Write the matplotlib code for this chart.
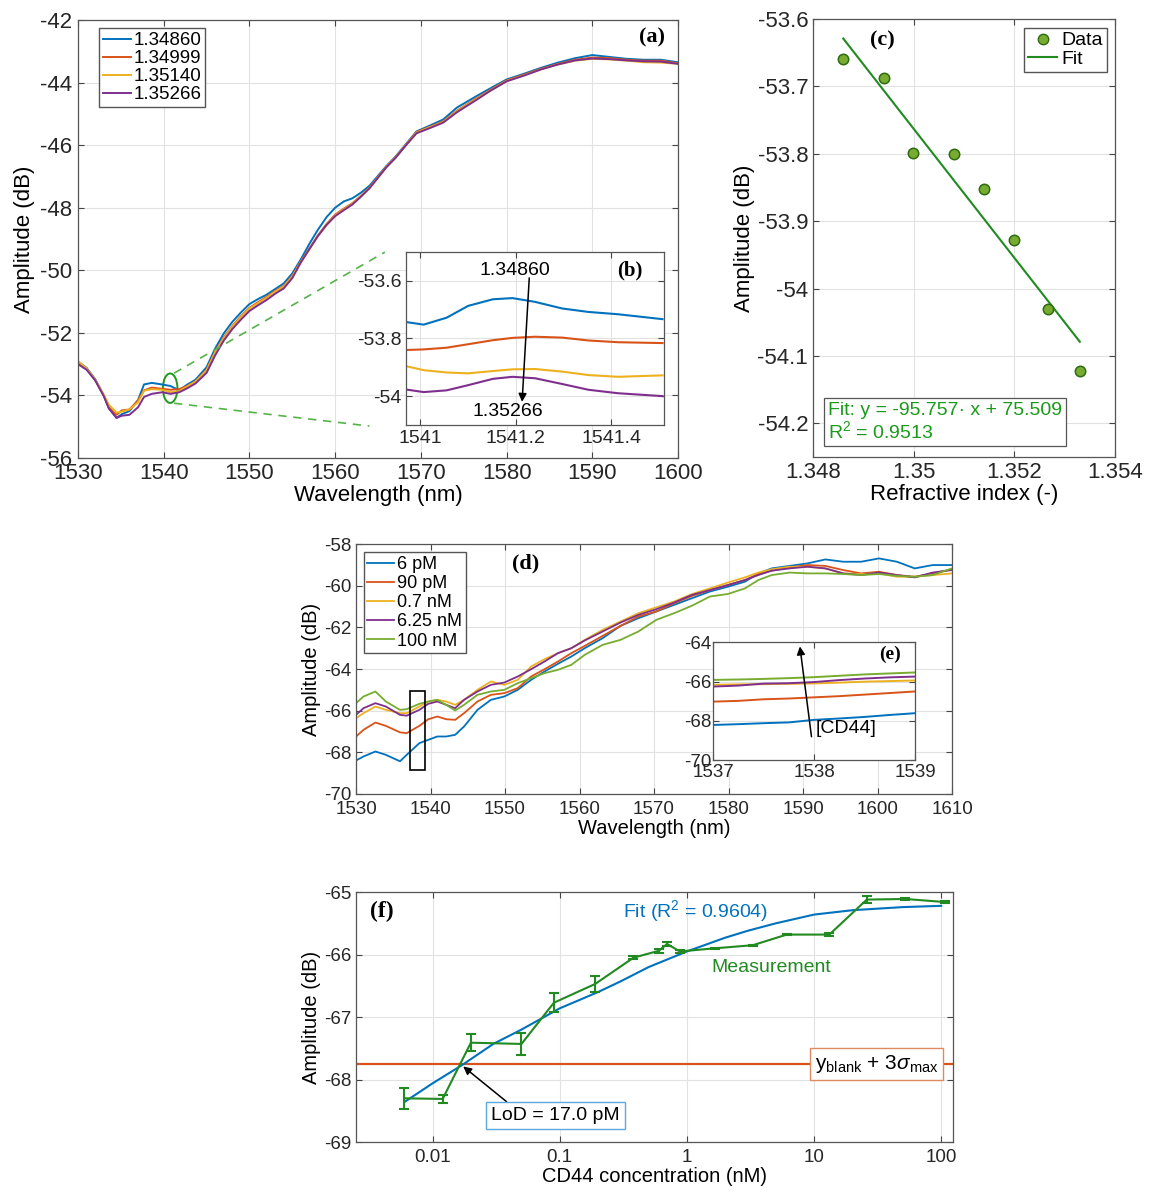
import matplotlib
matplotlib.use("Agg")
import matplotlib.pyplot as plt
from matplotlib.patches import Ellipse, Rectangle
from matplotlib.ticker import FixedLocator, FuncFormatter, NullLocator
from matplotlib.lines import Line2D

plt.rcParams['font.family'] = ['Liberation Sans', 'DejaVu Sans']
plt.rcParams['mathtext.fontset'] = 'custom'
plt.rcParams['mathtext.rm'] = 'Liberation Sans'
plt.rcParams['mathtext.it'] = 'Liberation Sans:italic'
plt.rcParams['axes.unicode_minus'] = False

C_BLUE = '#0072BD'
C_ORANGE = '#D95319'
C_YELLOW = '#EDB120'
C_PURPLE = '#7E2F8E'
C_GREEN = '#77AC30'
C_DKGREEN = '#218a21'
SERIF = ['Liberation Serif', 'DejaVu Serif']

# ---- (a) spectra for four refractive indices
ri_labels = ['1.34860', '1.34999', '1.35140', '1.35266']
wl_a = [1530, 1531, 1532, 1533, 1533.6, 1534.5, 1535.1, 1536, 1537, 1537.7, 1538.6, 1539.8,
        1540.8, 1541.8, 1542.7, 1543.7, 1545, 1546, 1547, 1548, 1549, 1550, 1551, 1552, 1553,
        1554, 1555, 1556, 1557, 1558, 1559, 1560, 1561, 1562, 1563, 1564, 1565, 1566, 1567,
        1568.4, 1569.5, 1571, 1572.6, 1574.2, 1576.5, 1578, 1580, 1582, 1584, 1586, 1588, 1590,
        1592, 1594, 1596, 1598, 1600]
amp_a_1 = [-52.92, -53.12, -53.48, -54.00, -54.40, -54.72, -54.60, -54.50, -54.15, -53.65, -53.60, -53.65,
           -53.70, -53.84, -53.66, -53.50, -53.10, -52.50, -52.02, -51.65, -51.35, -51.08, -50.92, -50.78,
           -50.60, -50.42, -50.10, -49.65, -49.15, -48.70, -48.30, -48.00, -47.80, -47.70, -47.52, -47.30,
           -46.98, -46.66, -46.38, -45.92, -45.56, -45.38, -45.18, -44.80, -44.43, -44.20, -43.90, -43.72,
           -43.53, -43.36, -43.22, -43.12, -43.18, -43.24, -43.27, -43.27, -43.35]
amp_a_2 = [-52.95, -53.15, -53.50, -54.00, -54.38, -54.62, -54.48, -54.45, -54.16, -53.84, -53.75, -53.79,
           -53.82, -53.80, -53.70, -53.55, -53.18, -52.60, -52.15, -51.78, -51.47, -51.20, -51.02, -50.85,
           -50.66, -50.50, -50.18, -49.72, -49.30, -48.88, -48.52, -48.22, -48.03, -47.86, -47.62, -47.36,
           -47.02, -46.68, -46.40, -45.94, -45.58, -45.42, -45.24, -44.90, -44.50, -44.25, -43.93, -43.75,
           -43.56, -43.40, -43.27, -43.20, -43.22, -43.27, -43.30, -43.30, -43.38]
amp_a_3 = [-52.90, -53.14, -53.50, -53.98, -54.30, -54.55, -54.52, -54.45, -54.22, -53.85, -53.80, -53.82,
           -53.90, -53.86, -53.72, -53.56, -53.20, -52.62, -52.18, -51.80, -51.50, -51.22, -51.05, -50.88,
           -50.68, -50.52, -50.20, -49.73, -49.32, -48.90, -48.55, -48.25, -48.05, -47.88, -47.63, -47.37,
           -47.03, -46.69, -46.41, -45.95, -45.60, -45.43, -45.26, -44.92, -44.52, -44.27, -43.95, -43.77,
           -43.58, -43.42, -43.30, -43.24, -43.26, -43.30, -43.35, -43.36, -43.40]
amp_a_4 = [-53.00, -53.18, -53.52, -54.02, -54.42, -54.72, -54.65, -54.62, -54.38, -54.05, -53.95, -53.90,
           -53.95, -53.90, -53.78, -53.62, -53.28, -52.72, -52.25, -51.88, -51.58, -51.30, -51.12, -50.95,
           -50.75, -50.58, -50.25, -49.75, -49.32, -48.90, -48.55, -48.27, -48.08, -47.90, -47.65, -47.38,
           -47.04, -46.70, -46.42, -45.96, -45.62, -45.46, -45.28, -44.95, -44.55, -44.28, -43.96, -43.78,
           -43.58, -43.42, -43.29, -43.23, -43.25, -43.29, -43.32, -43.33, -43.40]

# ---- (b) zoom of the 1541 nm region
wl_b = [1540.97, 1541.007, 1541.055, 1541.10, 1541.152, 1541.193, 1541.24, 1541.297, 1541.352, 1541.414, 1541.507]
amp_b_1 = [-53.743, -53.752, -53.728, -53.687, -53.664, -53.660, -53.673, -53.696, -53.708, -53.716, -53.733]
amp_b_2 = [-53.840, -53.838, -53.832, -53.820, -53.806, -53.798, -53.794, -53.797, -53.807, -53.813, -53.816]
amp_b_3 = [-53.896, -53.910, -53.918, -53.921, -53.913, -53.907, -53.906, -53.915, -53.927, -53.933, -53.928]
amp_b_4 = [-53.977, -53.986, -53.980, -53.962, -53.940, -53.933, -53.938, -53.958, -53.978, -53.990, -54.000]

# ---- (c) amplitude vs refractive index
ri_c = [1.3486, 1.3494, 1.34999, 1.3508, 1.3514, 1.3520, 1.35266, 1.3533]
amp_c = [-53.659, -53.688, -53.799, -53.801, -53.852, -53.928, -54.031, -54.122]
fit_slope = -95.757
fit_icpt = 75.509

# ---- (d) spectra for CD44 concentrations
conc_labels = ['6 pM', '90 pM', '0.7 nM', '6.25 nM', '100 nM']
wl_d = [1530, 1531, 1532.6, 1534, 1535.9, 1536.8, 1538.5, 1539.7, 1540.9, 1542.1, 1543.3, 1544.5,
        1546.3, 1548.1, 1549.9, 1551.7, 1553.5, 1555.3, 1557.1, 1558.9, 1560.7, 1563.1, 1565.5,
        1567.9, 1570.3, 1572.7, 1575.1, 1577.5, 1579.9, 1582.2, 1584, 1585.8, 1588.2, 1590.6,
        1593, 1595.4, 1597.8, 1600.2, 1602.6, 1605, 1607.4, 1610]
amp_d_1 = [-68.39, -68.20, -67.96, -68.12, -68.43, -68.12, -67.56, -67.40, -67.24, -67.24, -67.16, -66.76,
           -65.96, -65.48, -65.32, -65.00, -64.52, -64.12, -63.75, -63.40, -63.00, -62.52, -61.93, -61.56,
           -61.24, -60.92, -60.60, -60.28, -60.05, -59.81, -59.41, -59.17, -59.05, -58.93, -58.74, -58.85,
           -58.85, -58.69, -58.85, -59.17, -59.01, -59.01]
amp_d_2 = [-67.24, -66.92, -66.57, -66.73, -67.04, -67.08, -66.73, -66.41, -66.28, -66.41, -66.44, -66.12,
           -65.56, -65.24, -65.16, -64.92, -64.36, -64.01, -63.64, -63.24, -62.89, -62.41, -61.93, -61.48,
           -61.24, -60.84, -60.49, -60.21, -59.97, -59.73, -59.44, -59.28, -59.12, -59.01, -59.05, -59.25,
           -59.41, -59.33, -59.49, -59.57, -59.41, -59.21]
amp_d_3 = [-66.36, -66.12, -65.80, -65.96, -66.12, -66.12, -65.80, -65.56, -65.48, -65.56, -65.72, -65.48,
           -65.00, -64.60, -64.76, -64.52, -63.88, -63.53, -63.24, -63.00, -62.60, -62.12, -61.72, -61.32,
           -61.04, -60.76, -60.40, -60.13, -59.85, -59.60, -59.37, -59.21, -59.09, -59.09, -59.17, -59.41,
           -59.44, -59.41, -59.57, -59.57, -59.49, -59.41]
amp_d_4 = [-66.20, -65.88, -65.64, -65.80, -66.20, -66.24, -65.96, -65.67, -65.56, -65.72, -65.88, -65.48,
           -65.08, -64.76, -64.65, -64.36, -64.01, -63.64, -63.24, -63.00, -62.63, -62.20, -61.77, -61.40,
           -61.13, -60.81, -60.44, -60.21, -59.97, -59.73, -59.49, -59.28, -59.17, -59.09, -59.17, -59.41,
           -59.49, -59.37, -59.49, -59.60, -59.37, -59.25]
amp_d_5 = [-65.64, -65.32, -65.08, -65.56, -65.96, -65.93, -65.67, -65.56, -65.48, -65.72, -65.99, -65.72,
           -65.24, -65.08, -65.00, -64.68, -64.44, -64.20, -64.04, -63.80, -63.32, -62.84, -62.60, -62.20,
           -61.64, -61.32, -60.96, -60.52, -60.40, -60.13, -59.73, -59.49, -59.37, -59.41, -59.41, -59.44,
           -59.49, -59.44, -59.53, -59.57, -59.49, -59.17]

# ---- (e) zoom 1537-1539 nm
wl_e = [1537, 1537.25, 1537.5, 1537.75, 1538, 1538.25, 1538.5, 1538.75, 1539]
amp_e_1 = [-68.21, -68.17, -68.12, -68.08, -67.95, -67.88, -67.80, -67.70, -67.61]
amp_e_2 = [-67.02, -66.98, -66.90, -66.86, -66.80, -66.74, -66.66, -66.58, -66.50]
amp_e_3 = [-66.16, -66.14, -66.13, -66.11, -66.09, -66.05, -66.00, -65.97, -65.94]
amp_e_4 = [-66.25, -66.20, -66.10, -66.08, -66.02, -65.92, -65.84, -65.78, -65.74]
amp_e_5 = [-65.91, -65.89, -65.86, -65.82, -65.77, -65.70, -65.63, -65.58, -65.53]

# ---- (f) calibration
conc_f = [0.006, 0.012, 0.02, 0.05, 0.09, 0.19, 0.38, 0.6, 0.7, 0.88, 1.65, 3.3, 6.1, 13.2, 26, 52, 108]
amp_f = [-68.30, -68.31, -67.41, -67.43, -66.77, -66.47, -66.05, -65.94, -65.83, -65.95, -65.90, -65.85,
         -65.68, -65.68, -65.12, -65.11, -65.16]
err_f = [0.17, 0.07, 0.135, 0.18, 0.15, 0.13, 0.02, 0.03, 0.03, 0.02, 0.01, 0.01, 0.01, 0.02, 0.05, 0.01, 0.02]
fit_conc_f = [0.006, 0.01, 0.017, 0.03, 0.05, 0.1, 0.2, 0.3, 0.5, 1, 2, 3, 5, 10, 20, 50, 100]
fit_amp_f = [-68.36, -68.06, -67.77, -67.43, -67.20, -66.86, -66.60, -66.43, -66.20, -65.95, -65.73, -65.62,
             -65.50, -65.36, -65.29, -65.24, -65.22]
lod_level = -67.75


def style(ax, fs):
    ax.grid(True, color='#e2e2e2', lw=0.8)
    ax.set_axisbelow(True)
    ax.tick_params(direction='in', top=True, right=True, length=4, width=0.8,
                   color='#444444', labelcolor='#262626', labelsize=fs)
    for s in ax.spines.values():
        s.set_color('#555555')
        s.set_linewidth(0.9)


gfmt = FuncFormatter(lambda v, p: '%g' % round(v, 6))
fig = plt.figure(figsize=(11.59, 11.92), dpi=100)

# ================= (a)
ax_a = fig.add_axes([0.0673, 0.6158, 0.5177, 0.3674])
style(ax_a, 16)
cols4 = [C_BLUE, C_ORANGE, C_YELLOW, C_PURPLE]
for amp, c, lab in zip([amp_a_1, amp_a_2, amp_a_3, amp_a_4], cols4, ri_labels):
    ax_a.plot(wl_a, amp, color=c, lw=1.4, label=lab)
ax_a.set_xlim(1530, 1600)
ax_a.set_ylim(-56, -42)
ax_a.xaxis.set_major_locator(FixedLocator(range(1530, 1601, 10)))
ax_a.yaxis.set_major_locator(FixedLocator(range(-56, -41, 2)))
ax_a.tick_params(axis='y', pad=4)
ax_a.set_xlabel('Wavelength (nm)', fontsize=16, labelpad=1)
ax_a.set_ylabel('Amplitude (dB)', fontsize=16)
ax_a.legend(loc='upper left', bbox_to_anchor=(0.035, 0.981), borderaxespad=0, fontsize=13.5,
            frameon=True, fancybox=False, edgecolor='#555555', framealpha=1,
            handlelength=1.5, handletextpad=0.15, labelspacing=0.05, borderpad=0.2)
ax_a.add_patch(Ellipse((1540.75, -53.77), 1.7, 0.94, fill=False, ec='#1c9a1c', lw=1.4))
ax_a.plot([1541.2, 1565.8], [-53.29, -49.42], ls=(0, (5, 4)), color='#55b34a', lw=1.2)
ax_a.plot([1541.2, 1564.0], [-54.25, -54.98], ls=(0, (5, 4)), color='#55b34a', lw=1.2)
ax_a.text(1597.0, -42.55, '(a)', fontsize=16, fontweight='bold', family=SERIF, ha='center', va='center')

# ================= (b)
ax_b = fig.add_axes([0.3503, 0.6435, 0.2226, 0.1451])
style(ax_b, 14)
for amp, c in zip([amp_b_1, amp_b_2, amp_b_3, amp_b_4], cols4):
    ax_b.plot(wl_b, amp, color=c, lw=1.5)
ax_b.set_xlim(1540.97, 1541.51)
ax_b.set_ylim(-54.1, -53.5)
ax_b.xaxis.set_major_locator(FixedLocator([1541, 1541.2, 1541.4]))
ax_b.yaxis.set_major_locator(FixedLocator([-54, -53.8, -53.6]))
ax_b.xaxis.set_major_formatter(gfmt)
ax_b.yaxis.set_major_formatter(gfmt)
ax_b.annotate('', xy=(1541.213, -54.02), xytext=(1541.228, -53.59),
              arrowprops=dict(arrowstyle='-|>', color='k', lw=1.1, mutation_scale=12, shrinkA=0, shrinkB=0))
ax_b.text(1541.197, -53.565, '1.34860', fontsize=14, ha='center', va='center')
ax_b.text(1541.183, -54.055, '1.35266', fontsize=14, ha='center', va='center')
ax_b.text(1541.438, -53.565, '(b)', fontsize=15, fontweight='bold', family=SERIF, ha='center', va='center')

# ================= (c)
ax_c = fig.add_axes([0.7015, 0.6166, 0.2606, 0.3674])
style(ax_c, 16)
fit_x = [ri_c[0], ri_c[-1]]
fit_y = [fit_slope * v + fit_icpt for v in fit_x]
ax_c.plot(fit_x, fit_y, color=C_DKGREEN, lw=1.5, zorder=2)
ax_c.plot(ri_c, amp_c, 'o', ms=7.5, mfc=C_GREEN, mec='#2f6b12', mew=1.1, zorder=3)
ax_c.set_xlim(1.348, 1.354)
ax_c.set_ylim(-54.25, -53.6)
ax_c.xaxis.set_major_locator(FixedLocator([1.348, 1.35, 1.352, 1.354]))
ax_c.yaxis.set_major_locator(FixedLocator([-54.2, -54.1, -54.0, -53.9, -53.8, -53.7, -53.6]))
ax_c.xaxis.set_major_formatter(gfmt)
ax_c.yaxis.set_major_formatter(gfmt)
ax_c.set_xlabel('Refractive index (-)', fontsize=16, labelpad=1)
ax_c.set_ylabel('Amplitude (dB)', fontsize=16, labelpad=2)
h_c = [Line2D([], [], ls='none', marker='o', ms=7.5, mfc=C_GREEN, mec='#2f6b12'),
       Line2D([], [], color=C_DKGREEN, lw=1.5)]
ax_c.legend(h_c, ['Data', 'Fit'], loc='upper right', bbox_to_anchor=(0.9725, 0.98), borderaxespad=0,
            fontsize=14, fancybox=False, edgecolor='#555555', framealpha=1,
            handlelength=1.5, handletextpad=0.2, labelspacing=0.05, borderpad=0.2)
ax_c.text(0.05, 0.035, 'Fit: y = -95.757\u00b7 x + 75.509\nR$^2$ = 0.9513', transform=ax_c.transAxes,
          fontsize=14, color='#1a9a1a', ha='left', va='bottom', linespacing=1.05,
          bbox=dict(boxstyle='square,pad=0.2', fc='white', ec='#555555', lw=0.9))
ax_c.text(1.34937, -53.632, '(c)', fontsize=16, fontweight='bold', family=SERIF, ha='center', va='center')

# ================= (d)
ax_d = fig.add_axes([0.3072, 0.3339, 0.5142, 0.2097])
style(ax_d, 13.5)
cols5 = [C_BLUE, C_ORANGE, C_YELLOW, C_PURPLE, C_GREEN]
for amp, c, lab in zip([amp_d_1, amp_d_2, amp_d_3, amp_d_4, amp_d_5], cols5, conc_labels):
    ax_d.plot(wl_d, amp, color=c, lw=1.3, label=lab)
ax_d.set_xlim(1530, 1610)
ax_d.set_ylim(-70, -58)
ax_d.xaxis.set_major_locator(FixedLocator(range(1530, 1611, 10)))
ax_d.yaxis.set_major_locator(FixedLocator(range(-70, -57, 2)))
ax_d.tick_params(axis='x', pad=5)
ax_d.set_xlabel('Wavelength (nm)', fontsize=14.5, labelpad=1)
ax_d.set_ylabel('Amplitude (dB)', fontsize=14.5, labelpad=2)
ax_d.legend(loc='upper left', bbox_to_anchor=(0.013, 0.967), borderaxespad=0, fontsize=13,
            fancybox=False, edgecolor='#555555', framealpha=1,
            handlelength=1.5, handletextpad=0.15, labelspacing=0.12, borderpad=0.2)
ax_d.add_patch(Rectangle((1537.27, -68.85), 1.98, 3.79, fill=False, ec='k', lw=1.2, zorder=5))
ax_d.text(1552.8, -58.93, '(d)', fontsize=16, fontweight='bold', family=SERIF, ha='center', va='center')

# ================= (e)
ax_e = fig.add_axes([0.6152, 0.3624, 0.1743, 0.0986])
style(ax_e, 13.5)
for amp, c in zip([amp_e_1, amp_e_2, amp_e_3, amp_e_4, amp_e_5], cols5):
    ax_e.plot(wl_e, amp, color=c, lw=1.4)
ax_e.set_xlim(1537, 1539)
ax_e.set_ylim(-70, -64)
ax_e.xaxis.set_major_locator(FixedLocator([1537, 1538, 1539]))
ax_e.yaxis.set_major_locator(FixedLocator([-70, -68, -66, -64]))
ax_e.tick_params(axis='y', pad=1)
ax_e.tick_params(axis='x', pad=3)
ax_e.annotate('', xy=(1537.86, -64.2), xytext=(1537.975, -68.81),
              arrowprops=dict(arrowstyle='-|>', color='k', lw=1.1, mutation_scale=12, shrinkA=0, shrinkB=0))
ax_e.text(1538.02, -68.38, '[CD44]', fontsize=14, ha='left', va='center')
ax_e.text(1538.75, -64.63, '(e)', fontsize=14, fontweight='bold', family=SERIF, ha='center', va='center')

# ================= (f)
ax_f = fig.add_axes([0.3072, 0.0419, 0.5151, 0.2097])
style(ax_f, 13.5)
ax_f.set_xscale('log')
ax_f.axhline(lod_level, color=C_ORANGE, lw=1.6, zorder=2)
ax_f.plot(fit_conc_f, fit_amp_f, color=C_BLUE, lw=1.5, zorder=3)
ax_f.errorbar(conc_f, amp_f, yerr=err_f, color=C_DKGREEN, lw=1.5, capsize=3.5, capthick=1.5,
              elinewidth=1.5, zorder=4)
ax_f.set_xlim(0.0025, 124)
ax_f.set_ylim(-69, -65)
ax_f.xaxis.set_major_locator(FixedLocator([0.01, 0.1, 1, 10, 100]))
ax_f.xaxis.set_major_formatter(FuncFormatter(lambda v, p: '%g' % v))
ax_f.xaxis.set_minor_locator(NullLocator())
ax_f.yaxis.set_major_locator(FixedLocator([-69, -68, -67, -66, -65]))
ax_f.tick_params(axis='x', pad=5)
ax_f.set_xlabel('CD44 concentration (nM)', fontsize=14.5, labelpad=1)
ax_f.set_ylabel('Amplitude (dB)', fontsize=14.5, labelpad=2)
ax_f.text(1.16, -65.31, 'Fit (R$^{2}$ = 0.9604)', color=C_BLUE, fontsize=14, ha='center', va='center')
ax_f.text(4.6, -66.2, 'Measurement', color=C_DKGREEN, fontsize=14, ha='center', va='center')
ax_f.text(31, -67.75, r'y$_{\mathrm{blank}}$ + 3$\sigma_{\mathrm{max}}$', fontsize=15, ha='center',
          va='center', zorder=6,
          bbox=dict(boxstyle='square,pad=0.25', fc='white', ec='#e08a60', lw=1.0))
ax_f.annotate('LoD = 17.0 pM', xy=(0.0174, -67.79), xytext=(0.0927, -68.575), fontsize=14,
              ha='center', va='center', zorder=6,
              bbox=dict(boxstyle='square,pad=0.25', fc='white', ec='#5aa8e0', lw=1.0),
              arrowprops=dict(arrowstyle='-|>', color='k', lw=1.1, mutation_scale=12,
                              shrinkA=0, shrinkB=0, relpos=(0.17, 1.0)))
ax_f.text(0.0040, -65.31, '(f)', fontsize=17, fontweight='bold', family=SERIF, ha='center', va='center')

fig.savefig('out.png', dpi=100)
